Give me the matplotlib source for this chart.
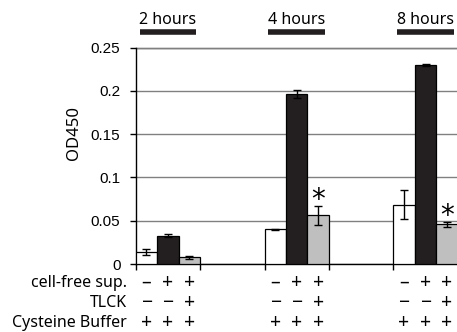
import numpy as np
import matplotlib
matplotlib.use('Agg')
import matplotlib.pyplot as plt

# OD450 readings per time point
hours = ['2 hours', '4 hours', '8 hours']
buffer_only = [0.0142, 0.040, 0.0685]
buffer_only_err = [0.0033, 0.0008, 0.0166]
cell_free = [0.0327, 0.1967, 0.230]
cell_free_err = [0.0015, 0.0046, 0.0006]
with_tlck = [0.0077, 0.0566, 0.0458]
with_tlck_err = [0.0015, 0.011, 0.003]
significant = [False, True, True]

row_labels = ['cell-free sup.', 'TLCK', 'Cysteine Buffer']
row_signs = [['\u2013', '+', '+'], ['\u2212', '\u2212', '+'], ['+', '+', '+']]
yticks = [0, 0.05, 0.1, 0.15, 0.2, 0.25]
ytick_labels = ['0', '0.05', '0.1', '0.15', '0.2', '0.25']

label_font = ['Noto Sans', 'DejaVu Sans']
tick_font = 'Liberation Sans'

W, H = 457, 332
fig = plt.figure(figsize=(W / 100, H / 100), dpi=100)
ax = fig.add_axes([135.7 / W, 1 - 264 / H, 322 / W, 216.3 / H])

group_pos = np.array([0, 2, 4])
bw = 1 / 3
series = [
    (buffer_only, buffer_only_err, 'white'),
    (cell_free, cell_free_err, '#231f20'),
    (with_tlck, with_tlck_err, '#bfbfbf'),
]
for i, (vals, errs, col) in enumerate(series):
    x = group_pos + bw * (i + 0.5)
    ax.bar(x, vals, width=bw, color=col, edgecolor='black', linewidth=0.9, zorder=3)
    ax.errorbar(x, vals, yerr=errs, fmt='none', ecolor='black', elinewidth=1,
                capsize=3, capthick=1, zorder=4)

# asterisks over TLCK bars
for g, sig in enumerate(significant):
    if sig:
        xs = group_pos[g] + bw * 2.5
        ax.annotate('*', (xs, with_tlck[g] + with_tlck_err[g]), xytext=(0, -6),
                    textcoords='offset points', ha='center', va='bottom',
                    fontsize=20, family='DejaVu Sans', zorder=5)

ax.set_xlim(0, 5)
ax.set_ylim(0, 0.25)
ax.set_yticks(yticks)
ax.set_yticklabels(ytick_labels, fontsize=11, family=tick_font)
ax.set_xticks([0, 1, 2, 3, 4])
ax.set_xticklabels([])
ax.tick_params(axis='both', direction='out', length=4, width=1, color='black')
ax.tick_params(axis='y', pad=7)
ax.grid(axis='y', color='#808080', linewidth=1, zorder=0)
for s in ['top', 'right']:
    ax.spines[s].set_visible(False)
ax.spines['left'].set_linewidth(1)
ax.spines['bottom'].set_linewidth(1)
ax.axhline(0.25, color='#333333', linewidth=1, zorder=1, clip_on=False)

ax.set_ylabel('OD450', fontsize=12, family=label_font)
ax.yaxis.set_label_coords(-0.168, 0.606)

# time point headers with thick bars
trans = ax.get_xaxis_transform()
for g, lab in enumerate(hours):
    x0 = group_pos[g] + 0.06
    x1 = group_pos[g] + 0.94
    ax.plot([x0, x1], [1.073, 1.073], transform=trans, color='#231f20',
            linewidth=4, solid_capstyle='butt', clip_on=False)
    ax.text((x0 + x1) / 2, 1.128, lab, transform=trans, ha='center', va='center',
            fontsize=11.5, family=label_font)

# treatment table below axis
row_y = [-0.088, -0.180, -0.273]
for r, lab in enumerate(row_labels):
    ax.text(-0.135, row_y[r], lab, transform=trans, ha='right', va='center',
            fontsize=11.5, family=label_font)
    for g in range(len(hours)):
        for i, sgn in enumerate(row_signs[r]):
            ax.text(group_pos[g] + bw * (i + 0.5), row_y[r], sgn, transform=trans,
                    ha='center', va='center', fontsize=14, family=label_font)

fig.savefig('out.png', dpi=100)
